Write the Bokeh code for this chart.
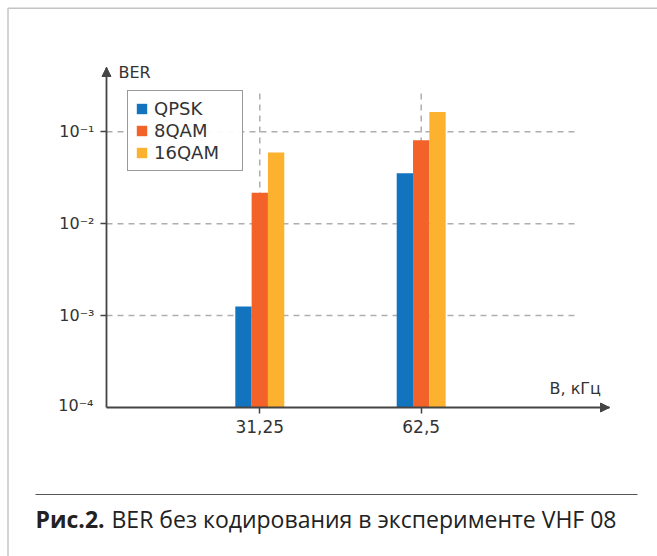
import numpy as np
from bokeh.plotting import figure
from bokeh.models import (Range1d, FixedTicker, Legend, LegendItem, Label, Arrow,
                          NormalHead, BoxAnnotation, ColumnDataSource, LinearAxis, LogAxis)
from bokeh.embed import file_html
from bokeh.resources import INLINE

# ---- data ----
bandwidth = [31.25, 62.5]
tick_labels = ["31,25", "62,5"]
series_names = ["QPSK", "8QAM", "16QAM"]
ber_qpsk = [1.26e-3, 3.55e-2]
ber_8qam = [2.17e-2, 8.1e-2]
ber_16qam = [5.97e-2, 0.164]
y_ticks = [1e-3, 1e-2, 1e-1]
y_tick_labels = ["10\u207b\u00b3", "10\u207b\u00b2", "10\u207b\u00b9"]

colors = ["#1274BE", "#F26229", "#FDB22F"]
TXT = "#333333"
AX = "#444444"
FONT = "DejaVu Sans"

W, H = 657, 556
# view window (frame covers whole canvas)
XV0, XV1 = -18.95, 108.25
YV0, YV1 = 10 ** -5.6213, 10 ** 0.4287
# axis extents
X0, X1 = 1.57, 98.96
Y0, Y1 = 1e-4, 10 ** -0.3
BAR_W = 3.16

p = figure(width=W, height=H, output_backend="svg", toolbar_location=None,
           x_range=Range1d(XV0, XV1), y_range=Range1d(YV0, YV1), y_axis_type="log",
           x_axis_location=None, y_axis_location=None,
           min_border=0, min_border_left=0, min_border_right=0,
           min_border_top=0, min_border_bottom=0,
           background_fill_color="white", border_fill_color="white")
p.outline_line_color = None
p.grid.visible = False

# axes fixed at data locations
xaxis = LinearAxis(fixed_location=Y0, bounds=(X0, X1), ticker=FixedTicker(ticks=bandwidth),
                   major_label_overrides={b: t for b, t in zip(bandwidth, tick_labels)})
yaxis = LogAxis(fixed_location=X0, bounds=(Y0, Y1), ticker=FixedTicker(ticks=y_ticks),
                major_label_overrides={v: t for v, t in zip(y_ticks, y_tick_labels)})
for ax in (xaxis, yaxis):
    ax.axis_line_color = AX
    ax.axis_line_width = 1.8
    ax.major_tick_line_color = AX
    ax.major_tick_line_width = 1.5
    ax.major_tick_in = 0
    ax.major_tick_out = 6
    ax.minor_tick_line_color = None
    ax.major_label_text_font = FONT
    ax.major_label_text_color = TXT
xaxis.major_label_text_font_size = "17px"
yaxis.major_label_text_font_size = "16px"
xaxis.major_label_standoff = 6
yaxis.major_label_standoff = 6
p.add_layout(xaxis, "below")
p.add_layout(yaxis, "left")

# dashed guide lines
GRID = dict(line_color="#AEAEAE", line_width=1.5, line_dash="6 5")
p.segment(x0=[X0] * 3, x1=[92.37] * 3, y0=y_ticks, y1=y_ticks, **GRID)
p.segment(x0=bandwidth, x1=bandwidth, y0=[Y0] * 2, y1=[0.268] * 2, **GRID)

# bars
items = []
for k, (name, vals) in enumerate(zip(series_names, [ber_qpsk, ber_8qam, ber_16qam])):
    xs = np.array(bandwidth) + (k - 1) * BAR_W
    src = ColumnDataSource(dict(x=xs, top=vals, bottom=[Y0] * len(vals)))
    r = p.vbar(x="x", top="top", bottom="bottom", width=BAR_W, source=src,
               fill_color=colors[k], line_color=None)
    items.append(LegendItem(label=name, renderers=[r]))

legend = Legend(items=items, location=(127, H - 171), margin=0, padding=7, spacing=1,
                glyph_width=13, glyph_height=13, label_height=13, label_width=81,
                label_standoff=6, label_text_font=FONT, label_text_font_size="18px",
                label_text_color=TXT, border_line_color="#333333", border_line_width=1.5,
                background_fill_color="white")
p.add_layout(legend, "center")

# axis arrows
for (xs, ys, xe, ye) in [(X0, Y0, X0, Y1), (X0, Y0, X1, Y0)]:
    p.add_layout(Arrow(end=NormalHead(size=9, fill_color=AX, line_color=AX),
                       x_start=xs, y_start=ys, x_end=xe, y_end=ye, line_alpha=0))

# labels
p.add_layout(Label(x=X0, y=Y0, x_offset=-13, y_offset=2, text="10\u207b\u2074",
                   text_align="right", text_baseline="middle", text_font=FONT,
                   text_font_size="16px", text_color=TXT))
p.add_layout(Label(x=118, y=H - 71.5, x_units="screen", y_units="screen", text="BER",
                   text_font=FONT, text_font_size="16px", text_color=TXT,
                   text_baseline="middle"))
p.add_layout(Label(x=549, y=H - 388, x_units="screen", y_units="screen", text="B, кГц",
                   text_font=FONT, text_font_size="16px", text_color=TXT,
                   text_baseline="middle"))

# caption
CAP_Y = H - 518
p.add_layout(Label(x=35, y=CAP_Y, x_units="screen", y_units="screen", text="Рис.2.",
                   text_font="Open Sans", text_font_size="23px", text_font_style="bold",
                   text_color="#222222", text_baseline="middle"))
p.add_layout(Label(x=111, y=CAP_Y, x_units="screen", y_units="screen",
                   text="BER без кодирования в эксперименте VHF 08",
                   text_font="Open Sans", text_font_size="23px",
                   text_color="#222222", text_baseline="middle"))

# separator line and outer frame
p.add_layout(BoxAnnotation(left=35, right=637, top=493.4, bottom=494.6,
                           left_units="canvas", right_units="canvas",
                           top_units="canvas", bottom_units="canvas",
                           fill_color="#555555", fill_alpha=1, line_color=None))
p.add_layout(BoxAnnotation(left=7.5, right=3000, top=7.75, bottom=3000,
                           left_units="canvas", right_units="canvas",
                           top_units="canvas", bottom_units="canvas",
                           fill_alpha=0, line_color="#3A3A3A", line_width=1.5))

open("out.html", "w").write(file_html(p, INLINE))
